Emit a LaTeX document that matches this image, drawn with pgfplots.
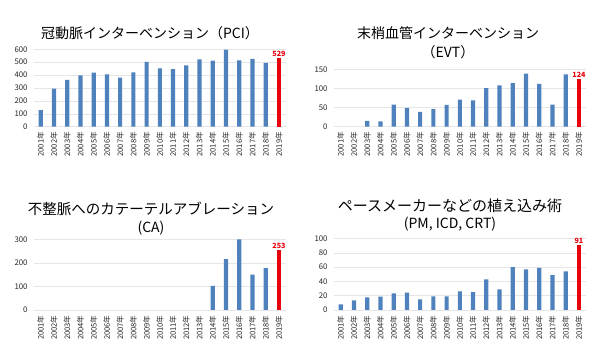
\documentclass[border=0pt]{standalone}
\usepackage{fontspec}
\setmainfont{Noto Sans CJK JP}
\usepackage{pgfplots}
\pgfplotsset{compat=1.18}
\definecolor{barblue}{HTML}{4F81BD}
\definecolor{barred}{HTML}{E8000B}
\definecolor{gridgray}{HTML}{E6E6E6}
\pgfplotsset{
  panel/.style={
    scale only axis, width=251.5pt,
    xmin=0.5, xmax=19.5, ymin=0,
    xtick={1,...,19},
    xticklabels={2001年,2002年,2003年,2004年,2005年,2006年,2007年,2008年,2009年,2010年,2011年,2012年,2013年,2014年,2015年,2016年,2017年,2018年,2019年},
    xticklabel style={rotate=90, anchor=east, font=\fontsize{7.6}{8}\selectfont, color=black!85, inner sep=1pt},
    yticklabel style={font=\fontsize{7.8}{8}\selectfont, color=black!85, xshift=-3pt},
    /pgf/number format/assume math mode=true,
    axis line style={draw=none},
    tick style={draw=none},
    ymajorgrids, grid style={gridgray, line width=0.5pt},
    ybar, bar width=4.2pt, bar shift=0pt,
    anchor=south west,
    clip=false,
  },
  blue bars/.style={fill=barblue, draw=none},
  red bars/.style={fill=barred, draw=none,
    nodes near coords,
    every node near coord/.append style={font=\bfseries\fontsize{7.2}{8}\selectfont, color=barred, inner sep=1.5pt}},
}
\begin{document}
\begin{tikzpicture}
\path[use as bounding box] (0,0) rectangle (600pt,364pt);
% Panel 1: PCI
\begin{axis}[panel, at={(34.1pt,237.3pt)}, height=77.4pt, ymax=600, ytick={0,100,...,600}]
\addplot[blue bars] coordinates {(1,129) (2,295) (3,362) (4,398) (5,419) (6,406) (7,380) (8,421) (9,502) (10,453) (11,447) (12,476) (13,522) (14,512) (15,597) (16,515) (17,525) (18,494)};
\addplot[red bars] coordinates {(19,529)};
\end{axis}
% Panel 2: EVT
\begin{axis}[panel, at={(334.1pt,237.3pt)}, height=57.4pt, ymax=150, ytick={0,50,...,150}]
\addplot[blue bars] coordinates {(3,15) (4,14) (5,58) (6,49) (7,39) (8,46) (9,57) (10,71) (11,69) (12,101) (13,108) (14,114) (15,139) (16,112) (17,58) (18,137)};
\addplot[red bars] coordinates {(19,124)};
\end{axis}
% Panel 3: CA
\begin{axis}[panel, at={(34.1pt,54pt)}, height=70.7pt, ymax=300, ytick={0,100,...,300}]
\addplot[blue bars] coordinates {(14,102) (15,216) (16,300) (17,150) (18,178)};
\addplot[red bars] coordinates {(19,253)};
\end{axis}
% Panel 4: PM
\begin{axis}[panel, at={(334.1pt,54pt)}, height=71.3pt, ymax=100, ytick={0,20,...,100}]
\addplot[blue bars] coordinates {(1,8) (2,13.5) (3,17.8) (4,18.7) (5,23.4) (6,24.3) (7,15) (8,19) (9,19) (10,26) (11,25) (12,43) (13,29) (14,60) (15,57) (16,59) (17,49) (18,54)};
\addplot[red bars] coordinates {(19,91)};
\end{axis}
% Titles
\node[font=\fontsize{14}{14}\selectfont] at (150pt,331pt) {冠動脈インターベンション（PCI）};
\node[font=\fontsize{14}{14}\selectfont] at (448pt,331pt) {末梢血管インターベンション};
\node[font=\fontsize{14}{14}\selectfont] at (448pt,312pt) {（EVT）};
\node[font=\fontsize{14.5}{14}\selectfont] at (151pt,155pt) {不整脈へのカテーテルアブレーション};
\node[font=\fontsize{14}{14}\selectfont] at (151pt,136pt) {(CA)};
\node[font=\fontsize{15}{14}\selectfont] at (450pt,158pt) {ペースメーカーなどの植え込み術};
\node[font=\fontsize{14}{14}\selectfont] at (450pt,140pt) {(PM, ICD, CRT)};
\end{tikzpicture}
\end{document}
